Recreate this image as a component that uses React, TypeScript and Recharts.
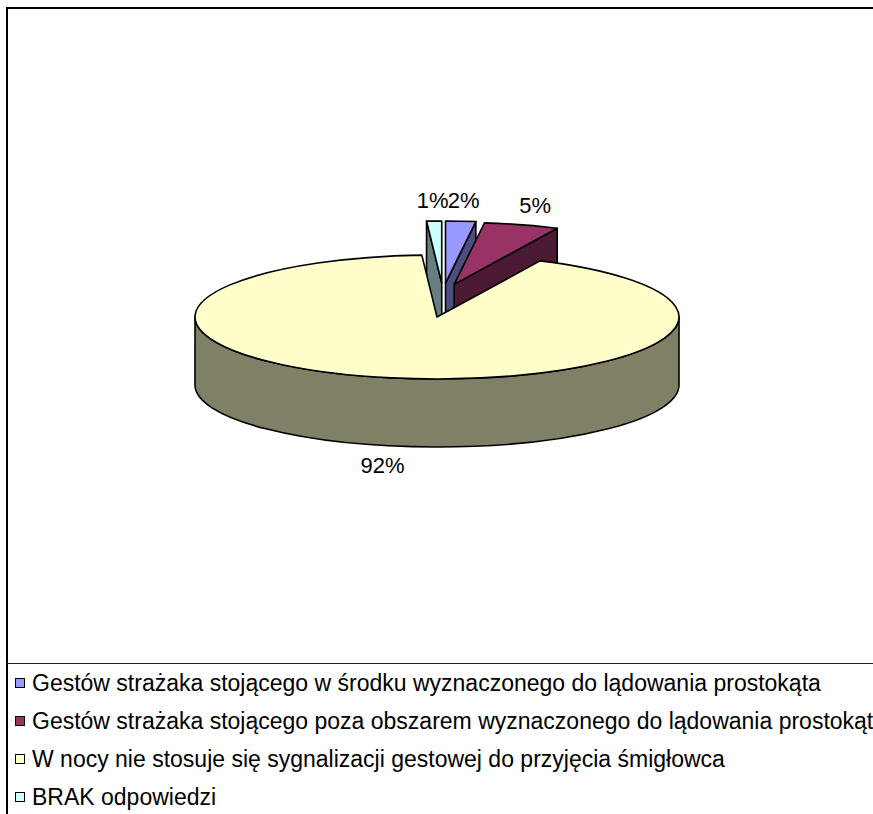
import React from "react";
import { PieChart, Pie, Cell, Legend } from "recharts";

// answers, in legend order
const categories = [
  "Gestów strażaka stojącego w środku wyznaczonego do lądowania prostokąta",
  "Gestów strażaka stojącego poza obszarem wyznaczonego do lądowania prostokąta",
  "W nocy nie stosuje się sygnalizacji gestowej do przyjęcia śmigłowca",
  "BRAK odpowiedzi",
];
const shares = [2, 5, 92, 1];

const topColors = ["#9999FF", "#993366", "#FFFFCC", "#CCFFFF"];
const sideColors = ["#4D4D80", "#4D1A33", "#808066", "#668080"];
const explodedSlices = [true, true, false, true];

const data = categories.map((name, i) => ({ name, value: shares[i] }));

// fake 3d look: flattened ellipse + side walls
const TILT = 62 / 242;
const DEPTH = 68;
const EXPLODE_X = 40;
const EXPLODE_Y = 34;
const EXPLODE_SHIFT = 6;
const FONT = "'Liberation Sans', Arial, sans-serif";

const rad = (d: number) => (d * Math.PI) / 180;

function geometry(props: any) {
  const { cx, cy, outerRadius, startAngle, endAngle } = props;
  const i = categories.indexOf(props.payload?.name ?? props.name);
  const rx = outerRadius;
  const ry = outerRadius * TILT;
  // clockwise from 12 o'clock
  const t0 = 90 - startAngle;
  const t1 = 90 - endAngle;
  const mid = (t0 + t1) / 2;
  const ex = explodedSlices[i] ? EXPLODE_X * Math.sin(rad(mid)) + EXPLODE_SHIFT : 0;
  const ey = explodedSlices[i] ? -EXPLODE_Y * Math.cos(rad(mid)) : 0;
  const ox = cx + ex;
  const oy = cy + ey;
  const pt = (t: number, z = 0) => [ox + rx * Math.sin(rad(t)), oy - ry * Math.cos(rad(t)) + z];
  return { i, rx, ry, t0, t1, ox, oy, pt };
}

const WallShape = (props: any) => {
  const { i, rx, ry, t0, t1, ox, oy, pt } = geometry(props);
  const parts: string[] = [];
  // radial walls facing the viewer
  const radial = (t: number) => {
    const [x, y] = pt(t);
    return `M${ox},${oy} L${x},${y} L${x},${y + DEPTH} L${ox},${oy + DEPTH} Z`;
  };
  if (-Math.sin(rad(t0)) > 1e-6) parts.push(radial(t0));
  if (Math.sin(rad(t1)) > 1e-6) parts.push(radial(t1));
  // outer front wall
  const a = Math.max(t0, 90);
  const b = Math.min(t1, 270);
  if (b > a) {
    const [x1, y1] = pt(a);
    const [x2, y2] = pt(b);
    parts.push(
      `M${x1},${y1} A${rx},${ry} 0 0 1 ${x2},${y2} L${x2},${y2 + DEPTH} A${rx},${ry} 0 0 0 ${x1},${y1 + DEPTH} Z`
    );
  }
  return (
    <g>
      {parts.map((d, k) => (
        <path key={k} d={d} fill={sideColors[i]} stroke="#000" strokeWidth={1.6} strokeLinejoin="round" />
      ))}
    </g>
  );
};

const TopShape = (props: any) => {
  const { i, rx, ry, t0, t1, ox, oy, pt } = geometry(props);
  const [x1, y1] = pt(t0);
  const [x2, y2] = pt(t1);
  const large = t1 - t0 > 180 ? 1 : 0;
  const d = `M${ox},${oy} L${x1},${y1} A${rx},${ry} 0 ${large} 1 ${x2},${y2} Z`;
  return <path d={d} fill={topColors[i]} stroke="#000" strokeWidth={1.6} strokeLinejoin="round" />;
};

const renderLabel = (props: any) => {
  const { cx, cy, outerRadius, midAngle, percent, index } = props;
  const t = 90 - midAngle;
  const rx = outerRadius;
  const ry = outerRadius * TILT;
  const ex = explodedSlices[index] ? EXPLODE_X * Math.sin(rad(t)) + EXPLODE_SHIFT : 0;
  const ey = explodedSlices[index] ? -EXPLODE_Y * Math.cos(rad(t)) : 0;
  const c = Math.cos(rad(t));
  const x = cx + ex + rx * 1.2 * Math.sin(rad(t));
  const y = cy + ey - ry * 1.33 * c + (c < 0 ? DEPTH : 0);
  return (
    <text x={x} y={y} textAnchor="middle" dominantBaseline="central" fontSize={22} fontFamily={FONT} fill="#000">
      {`${Math.round(percent * 100)}%`}
    </text>
  );
};

const LegendBox = () => (
  <div style={{ borderTop: "1px solid #222", fontFamily: FONT, fontSize: 23, color: "#000" }}>
    {categories.map((c, i) => (
      <div key={c} style={{ display: "flex", alignItems: "center", height: 38, whiteSpace: "nowrap" }}>
        <span
          style={{
            display: "inline-block",
            width: 8,
            height: 8,
            border: "1px solid #000",
            background: topColors[i],
            marginLeft: 8,
            marginRight: 7,
            flexShrink: 0,
          }}
        />
        {c}
      </div>
    ))}
  </div>
);

export default function App() {
  return (
    <div style={{ position: "absolute", left: 0, top: 0, width: 873, height: 814, overflow: "hidden", background: "#fff" }}>
      <div
        style={{
          position: "absolute",
          left: 6,
          top: 7,
          width: 1000,
          height: 1000,
          border: "2px solid #000",
        }}
      />
      <PieChart width={873} height={814} margin={{ top: 0, right: 0, bottom: 0, left: 0 }}>
        <Pie
          data={data}
          dataKey="value"
          nameKey="name"
          cx={437}
          cy={317}
          outerRadius={242}
          startAngle={90}
          endAngle={-270}
          shape={WallShape}
          isAnimationActive={false}
          legendType="none"
        >
          {data.map((d, i) => (
            <Cell key={d.name} fill={sideColors[i]} />
          ))}
        </Pie>
        <Pie
          data={data}
          dataKey="value"
          nameKey="name"
          cx={437}
          cy={317}
          outerRadius={242}
          startAngle={90}
          endAngle={-270}
          shape={TopShape}
          label={renderLabel}
          labelLine={false}
          isAnimationActive={false}
        >
          {data.map((d, i) => (
            <Cell key={d.name} fill={topColors[i]} />
          ))}
        </Pie>
        <Legend
          content={() => <LegendBox />}
          wrapperStyle={{ position: "absolute", left: 7, top: 663, width: 866 }}
        />
      </PieChart>
    </div>
  );
}
